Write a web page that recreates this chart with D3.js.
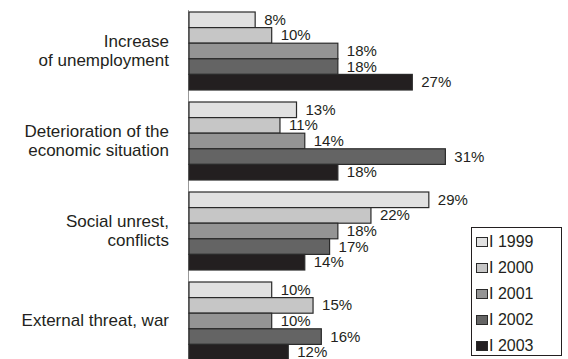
<!DOCTYPE html>
<html>
<head>
<meta charset="utf-8">
<script src="https://cdn.jsdelivr.net/npm/d3@7"></script>
<style>
  html, body { margin: 0; padding: 0; background: #fff; }
  svg { display: block; }
  text { font-family: "Liberation Sans", Arial, sans-serif; fill: #231f20; }
</style>
</head>
<body>
<svg id="chart" width="568" height="359"></svg>
<script>
// Survey answers: share of respondents naming each concern, by survey wave
const categories = [
  ["Increase", "of unemployment"],
  ["Deterioration of the", "economic situation"],
  ["Social unrest,", "conflicts"],
  ["External threat, war"]
];
const years = ["I 1999", "I 2000", "I 2001", "I 2002", "I 2003"];
const values1999 = [8, 13, 29, 10];
const values2000 = [10, 11, 22, 15];
const values2001 = [18, 14, 18, 10];
const values2002 = [18, 31, 17, 16];
const values2003 = [27, 18, 14, 12];

const series = [values1999, values2000, values2001, values2002, values2003];
const fills = ["#e1e1e1", "#c6c6c6", "#949494", "#646464", "#231f20"];

const svg = d3.select("#chart");
const catKeys = categories.map((c, i) => i);

const y = d3.scaleBand().domain(catKeys).range([12, 360])
  .paddingInner(12 / 90).paddingOuter(0);
const yInner = d3.scaleBand().domain(years).range([0, y.bandwidth()]).padding(0);
const x = d3.scaleLinear().domain([0, 40]).range([189, 189 + 8.27 * 40]);

// vertical baseline
svg.append("line")
  .attr("x1", 188.5).attr("x2", 188.5)
  .attr("y1", 10).attr("y2", 359)
  .attr("stroke", "#999").attr("stroke-width", 1);

const groups = svg.selectAll("g.cat").data(catKeys).join("g")
  .attr("class", "cat")
  .attr("transform", d => `translate(0,${y(d)})`);

groups.each(function(ci) {
  const g = d3.select(this);
  const rows = years.map((yr, si) => ({ yr, si, v: series[si][ci] }));
  g.selectAll("rect").data(rows).join("rect")
    .attr("x", x(0))
    .attr("y", d => yInner(d.yr))
    .attr("width", d => x(d.v) - x(0))
    .attr("height", yInner.bandwidth())
    .attr("fill", d => fills[d.si])
    .attr("stroke", "#2a2a2a")
    .attr("stroke-width", 1.2);
  g.selectAll("text.val").data(rows).join("text")
    .attr("class", "val")
    .attr("x", d => x(d.v) + 9)
    .attr("y", d => yInner(d.yr) + yInner.bandwidth() / 2 + 1)
    .attr("dominant-baseline", "middle")
    .attr("font-size", 15)
    .text(d => d.v + "%");
});

// category labels, right aligned and centred on their group
const lineH = 19;
svg.selectAll("text.cat").data(catKeys).join("text")
  .attr("class", "cat")
  .attr("text-anchor", "end")
  .attr("font-size", 17)
  .each(function(ci) {
    const lines = categories[ci];
    const cy = y(ci) + y.bandwidth() / 2 + 1;
    const top = cy - (lines.length - 1) * lineH / 2;
    d3.select(this).selectAll("tspan").data(lines).join("tspan")
      .attr("x", 169)
      .attr("y", (d, i) => top + i * lineH)
      .attr("dominant-baseline", "middle")
      .text(d => d);
  });

// legend
const legend = svg.append("g");
legend.append("rect")
  .attr("x", 471.5).attr("y", 227.5)
  .attr("width", 90).attr("height", 128)
  .attr("fill", "#fff").attr("stroke", "#231f20").attr("stroke-width", 1);
const ly = d3.scalePoint().domain(years).range([242, 346]);
legend.selectAll("rect.sw").data(years).join("rect")
  .attr("class", "sw")
  .attr("x", 476.5).attr("y", d => ly(d) - 4.5)
  .attr("width", 11).attr("height", 9)
  .attr("fill", (d, i) => fills[i])
  .attr("stroke", "#2a2a2a").attr("stroke-width", 1);
legend.selectAll("text.lg").data(years).join("text")
  .attr("class", "lg")
  .attr("x", 489).attr("y", d => ly(d) + 1)
  .attr("dominant-baseline", "middle")
  .attr("font-size", 16)
  .text(d => d);
</script>
</body>
</html>
